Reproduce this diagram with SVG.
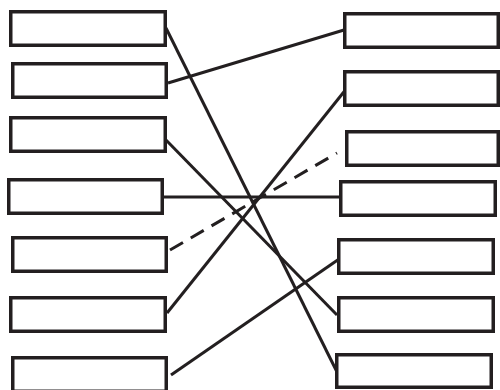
<svg xmlns="http://www.w3.org/2000/svg" width="500" height="390" viewBox="0 0 500 390">
<style>
.box{fill:#fff;stroke:#231f20;stroke-width:3.5}
.ln{stroke:#231f20;stroke-width:3;fill:none}
.dash{stroke-dasharray:15 9}
</style>
<rect width="500" height="390" fill="#fff"/>
<g id="connectors">
<line class="ln" x1="166" y1="28" x2="337" y2="372"/>
<line class="ln" x1="168" y1="83" x2="344" y2="30"/>
<line class="ln" x1="166" y1="140" x2="337" y2="315"/>
<line class="ln" x1="163" y1="197" x2="340" y2="197"/>
<line class="ln dash" x1="170" y1="250" x2="337" y2="153"/>
<line class="ln" x1="167" y1="313" x2="347" y2="88"/>
<line class="ln" x1="171" y1="375" x2="342" y2="257"/>
</g>
<g id="L1"><rect class="box" x="10.75" y="11.75" width="154.5" height="33.5"/></g>
<g id="L2"><rect class="box" x="12.75" y="63.75" width="153.5" height="33.5"/></g>
<g id="L3"><rect class="box" x="10.75" y="117.75" width="154.5" height="33.5"/></g>
<g id="L4"><rect class="box" x="8.75" y="179.75" width="153.5" height="33.5"/></g>
<g id="L5"><rect class="box" x="12.75" y="237.75" width="153.5" height="33.5"/></g>
<g id="L6"><rect class="box" x="10.75" y="297.75" width="154.5" height="33.5"/></g>
<g id="L7"><rect class="box" x="12.75" y="357.75" width="153.5" height="33.5"/></g>
<g id="R1"><rect class="box" x="344.75" y="13.75" width="153.5" height="33.5"/></g>
<g id="R2"><rect class="box" x="344.75" y="71.75" width="153.5" height="33.5"/></g>
<g id="R3"><rect class="box" x="346.75" y="131.75" width="151.5" height="33.5"/></g>
<g id="R4"><rect class="box" x="340.75" y="181.75" width="154.5" height="33.5"/></g>
<g id="R5"><rect class="box" x="338.75" y="239.75" width="154.5" height="33.5"/></g>
<g id="R6"><rect class="box" x="338.75" y="297.75" width="154.5" height="33.5"/></g>
<g id="R7"><rect class="box" x="336.75" y="354.75" width="154.5" height="32.5"/></g>
</svg>
